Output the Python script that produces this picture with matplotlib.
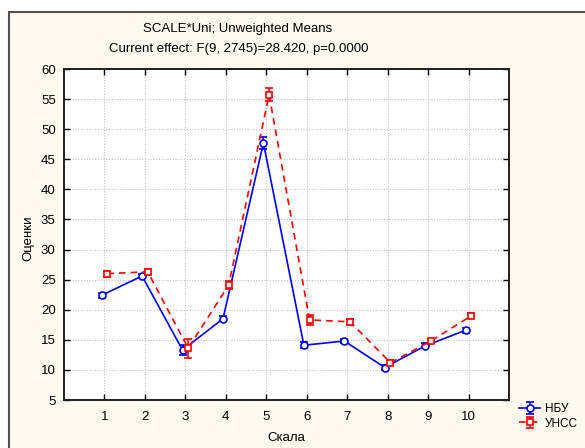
import matplotlib
matplotlib.use("Agg")
import matplotlib.pyplot as plt
from matplotlib.patches import Rectangle
import numpy as np

plt.rcParams['font.family'] = ['Liberation Sans', 'DejaVu Sans']

scales = [1, 2, 3, 4, 5, 6, 7, 8, 9, 10]
nbu_means = [22.4, 25.6, 13.3, 18.5, 47.7, 14.1, 14.8, 10.4, 14.0, 16.6]
nbu_err = [0.4, 0.4, 0.9, 0.4, 1.0, 0.5, 0.4, 0.4, 0.4, 0.4]
unss_means = [26.0, 26.3, 13.6, 24.1, 55.7, 18.3, 18.0, 11.2, 14.8, 19.0]
unss_err = [0.5, 0.5, 1.6, 0.6, 1.1, 0.9, 0.5, 0.4, 0.4, 0.4]
yticks = [5, 10, 15, 20, 25, 30, 35, 40, 45, 50, 55, 60]
title1 = "SCALE*Uni; Unweighted Means"
title2 = "Current effect: F(9, 2745)=28.420, p=0.0000"

W, H = 585, 448
fig = plt.figure(figsize=(W / 100, H / 100), dpi=100)
fig.patch.set_facecolor('white')

bg = fig.add_axes([0, 0, 1, 1], zorder=-10)
bg.set_xlim(0, W)
bg.set_ylim(H, 0)
bg.axis('off')
bg.add_patch(Rectangle((9, 12), W + 20, H + 20, facecolor='#FEF9EE',
                       edgecolor='#505050', linewidth=1.5))

ax = fig.add_axes([64 / W, (H - 400) / H, (509 - 64) / W, (400 - 69) / H])
ax.set_facecolor('white')

x = np.array(scales, dtype=float)
off = 0.07
ax.errorbar(x - off, nbu_means, yerr=nbu_err, color='#0000FF', linewidth=1.2,
            marker='o', markersize=5, markerfacecolor='white', markeredgecolor='#0000FF',
            markeredgewidth=1.2, capsize=3, elinewidth=1.2, label='НБУ', zorder=3)
ax.errorbar(x + off, unss_means, yerr=unss_err, color='#FF0000', linewidth=1.2,
            linestyle=(0, (4, 3)), marker='s', markersize=5, markerfacecolor='white',
            markeredgecolor='#FF0000', markeredgewidth=1.2, capsize=3, elinewidth=1.2,
            label='УНСС', zorder=4)

ax.set_xlim(0, 11)
ax.set_ylim(5, 60)
ax.set_xticks(scales)
ax.set_yticks(yticks)
ax.tick_params(direction='in', top=True, right=True, length=4, width=1,
               labelsize=9.5, colors='black', pad=6)
ax.tick_params(axis='x', pad=8)
ax.grid(True, color='#C4C4C4', linestyle=(0, (1, 1.5)), linewidth=0.8)
ax.set_axisbelow(True)
for s in ax.spines.values():
    s.set_linewidth(1.4)
    s.set_color('#202020')

fig.text(286 / W, 1 - 438 / H, 'Скала', ha='center', va='center', fontsize=9.5)
fig.text(28 / W, 1 - 238 / H, 'Оценки', ha='center', va='center', fontsize=9.5,
         rotation=90)

fig.text(238 / W, 1 - 29 / H, title1, ha='center', va='center', fontsize=9.5)
fig.text(239 / W, 1 - 49 / H, title2, ha='center', va='center', fontsize=9.5)

leg = fig.legend(loc='upper left', bbox_to_anchor=(518 / W, 1 - 402 / H),
                 frameon=False, fontsize=8.5, handlelength=1.8, handletextpad=0.4,
                 labelspacing=0.2, borderpad=0.1, borderaxespad=0)

fig.savefig('out.png', dpi=100, facecolor=fig.get_facecolor())
